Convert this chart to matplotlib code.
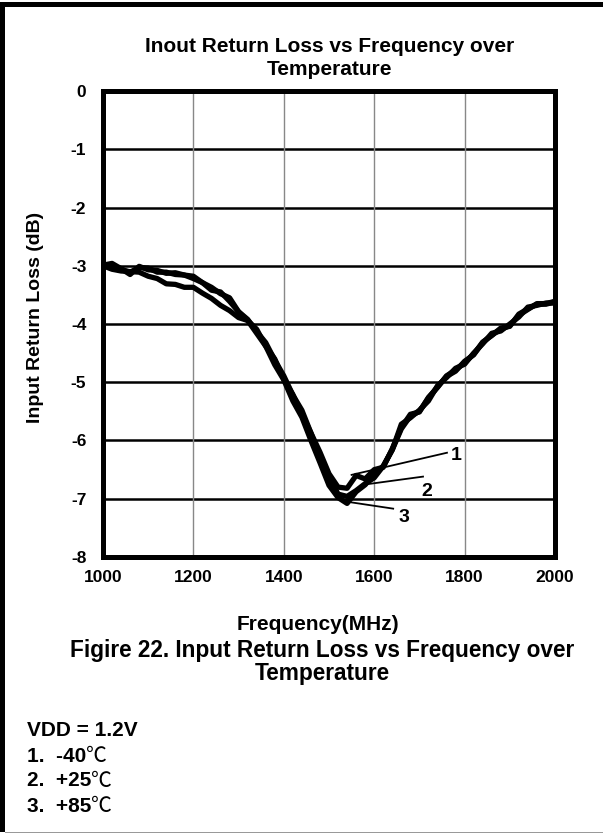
import matplotlib
matplotlib.use('Agg')
import matplotlib.pyplot as plt
from matplotlib.patches import Rectangle

plt.rcParams['font.family'] = ['Liberation Sans', 'Noto Sans CJK SC', 'DejaVu Sans']
plt.rcParams['font.weight'] = 'bold'
plt.rcParams['axes.unicode_minus'] = False

# frequency grid (MHz)
freq = list(range(1000, 2001, 20))

# return loss (dB) per temperature
loss_m40 = [-2.99, -2.96, -3.05, -3.15, -3.01, -3.07, -3.08, -3.13, -3.12, -3.16,
            -3.18, -3.29, -3.37, -3.48, -3.55, -3.79, -3.92, -4.13, -4.32, -4.62,
            -4.89, -5.22, -5.48, -5.87, -6.20, -6.57, -6.80, -6.82, -6.60, -6.66,
            -6.50, -6.46, -6.14, -5.78, -5.55, -5.51, -5.26, -5.09, -4.89, -4.79,
            -4.66, -4.52, -4.31, -4.20, -4.07, -4.04, -3.83, -3.74, -3.66, -3.66,
            -3.62]
loss_25 = [-2.99, -3.02, -3.06, -3.11, -3.03, -3.04, -3.11, -3.11, -3.15, -3.16,
           -3.22, -3.29, -3.42, -3.45, -3.61, -3.79, -3.94, -4.09, -4.38, -4.60,
           -4.95, -5.21, -5.55, -5.87, -6.29, -6.61, -6.92, -6.96, -6.86, -6.74,
           -6.64, -6.44, -6.16, -5.72, -5.61, -5.48, -5.32, -5.06, -4.92, -4.76,
           -4.69, -4.50, -4.34, -4.16, -4.12, -4.00, -3.88, -3.71, -3.68, -3.64,
           -3.64]
loss_85 = [-3.00, -3.06, -3.09, -3.10, -3.11, -3.18, -3.22, -3.31, -3.32, -3.37,
           -3.37, -3.47, -3.56, -3.68, -3.77, -3.89, -3.94, -4.16, -4.38, -4.70,
           -4.96, -5.32, -5.60, -6.00, -6.38, -6.77, -6.98, -7.08, -6.88, -6.76,
           -6.58, -6.44, -6.16, -5.80, -5.58, -5.50, -5.27, -5.08, -4.90, -4.81,
           -4.64, -4.53, -4.32, -4.19, -4.09, -4.03, -3.85, -3.75, -3.65, -3.65,
           -3.61]

curve_labels = ['1', '2', '3']
# leader line start (on curve), end, and label position
leader_start = [(1550, -6.59), (1575, -6.76), (1539, -7.05)]
leader_end = [(1761, -6.21), (1708, -6.62), (1642, -7.17)]
label_pos = [(1782, -6.25), (1716, -6.88), (1666, -7.33)]

legend_head = 'VDD = 1.2V'
legend_lines = ['1.  -40', '2.  +25', '3.  +85']

W, H = 603, 834
fig = plt.figure(figsize=(W / 100, H / 100), dpi=100)
ax = fig.add_axes([103 / W, 1 - 557 / H, 452 / W, 466 / H])

for loss in (loss_m40, loss_25, loss_85):
    ax.plot(freq, loss, color='black', lw=3.8, solid_joinstyle='round',
            solid_capstyle='round', zorder=3)

for s, e, p, t in zip(leader_start, leader_end, label_pos, curve_labels):
    ax.plot([s[0], e[0]], [s[1], e[1]], color='black', lw=1.3, zorder=4)
    ax.text(p[0], p[1], t, fontsize=14, fontweight='bold', ha='center', va='center')

ax.set_xlim(1000, 2000)
ax.set_ylim(-8, 0)
ax.set_xticks(range(1000, 2001, 200))
ax.set_yticks(range(-8, 1))
for y in range(-7, 0):
    ax.axhline(y, color='black', lw=1.8, zorder=1)
for x in range(1200, 2000, 200):
    ax.axvline(x, color='#888888', lw=1.0, zorder=1)
ax.tick_params(length=0, labelsize=12.5)
ax.tick_params(axis='x', pad=9)
ax.tick_params(axis='y', pad=12)
for lab in ax.get_xticklabels() + ax.get_yticklabels():
    lab.set_fontweight('bold')
for sp in ax.spines.values():
    sp.set_linewidth(3.6)
    sp.set_zorder(5)

fig.text(330 / W, 1 - 58 / H, 'Inout Return Loss vs Frequency over\nTemperature',
         ha='center', va='center', fontsize=15, fontweight='bold', linespacing=1.3)
fig.text(36 / W, 1 - 317 / H, 'Input Return Loss (dB)', rotation=90,
         ha='center', va='center', fontsize=14, fontweight='bold')
fig.text(318 / W, 1 - 625 / H, 'Frequency(MHz)', ha='center', va='center',
         fontsize=15, fontweight='bold')
fig.text(322 / W, 1 - 662 / H,
         'Figire 22. Input Return Loss vs Frequency over\nTemperature',
         ha='center', va='center', fontsize=16.3, fontweight='bold', linespacing=1.05)

fig.text(27 / W, 1 - 731 / H, legend_head, ha='left', va='center',
         fontsize=15, fontweight='bold')
for i, line in enumerate(legend_lines):
    t = fig.text(27 / W, 1 - (756 + 25 * i) / H, line, ha='left', va='center',
                 fontsize=15, fontweight='bold')
    # degree sign drawn lighter, right after the number
    ax.annotate('\u2103', xy=(1, 0.5), xycoords=t, xytext=(-0.5, 0),
                textcoords='offset points', ha='left', va='center',
                fontsize=15, fontweight='normal',
                family=['Noto Sans CJK SC', 'DejaVu Sans'], annotation_clip=False)

# page frame
fig.add_artist(Rectangle((0, 1 - 7 / H), 1, 5 / H, transform=fig.transFigure,
                         color='black', lw=0))
fig.add_artist(Rectangle((0, 2 / H), 5 / W, 1 - 4 / H, transform=fig.transFigure,
                         color='black', lw=0))
fig.add_artist(Rectangle((5 / W, 1 / H), 1, 1.2 / H, transform=fig.transFigure,
                         color='#999999', lw=0))

fig.savefig('out.png', dpi=100)
